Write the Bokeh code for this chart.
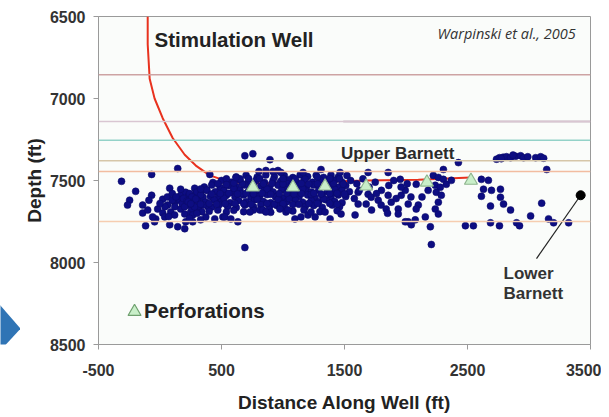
from bokeh.plotting import figure
from bokeh.layouts import row
from bokeh.models import Range1d, FixedTicker, Label, Span
from bokeh.embed import file_html
from bokeh.resources import INLINE

# ---------------- data ----------------
x_ticks = [-500, 500, 1500, 2500, 3500]
x_tick_labels = ["-500", "500", "1500", "2500", "3500"]
depth_ticks = [6500, 7000, 7500, 8000, 8500]

# stimulation well trajectory (distance along well, depth)
well_x = [-100, -100, -84, -44, 22, 103, 201, 291, 405, 568, 837, 1163, 1676, 2100, 2524]
well_depth = [6500, 6669, 6880, 7000, 7120, 7241, 7343, 7409, 7469, 7511, 7518, 7512, 7500, 7495, 7482]

# perforations
perf_x = [755, 1081, 1342, 1676, 2170, 2528]
perf_depth = [7541, 7541, 7535, 7535, 7511, 7500]

# formation tops
top_depths = [6855, 7140, 7255, 7380, 7445, 7750]
top_colors = ["#cda3a3", "#d9c6d2", "#93d2c8", "#d6c6a8", "#f2bca0", "#f6cdb0"]
purple_top_x = [1490, 3500]
purple_top_depth = 7140

# lower barnett pointer
lower_barnett_x = [3420, 3061]
lower_barnett_depth = [7590, 7976]

# microseismic events (distance, depth)
west_events = [
    (-313, 7505), (-68, 7463), (144, 7427), (-198, 7566), (-68, 7590), (-247, 7620),
    (-264, 7650), (-141, 7650), (-141, 7698), (-117, 7776), (79, 7547), (-19, 7674),
    (22, 7698), (62, 7650), (87, 7692), (119, 7632), (144, 7614), (168, 7590),
    (209, 7572), (282, 7547), (307, 7602), (331, 7572), (364, 7632), (225, 7650),
    (168, 7674), (201, 7704), (250, 7692), (307, 7674), (-35, 7734), (38, 7722),
    (79, 7770), (144, 7782), (201, 7794), (209, 7752), (266, 7752), (-44, 7752),
    (168, 7553), (22, 7614), (160, 7620), (242, 7614), (323, 7590), (-60, 7722),
    (119, 7710), (266, 7710), (372, 7722), (180, 7640), (230, 7600), (260, 7630),
    (290, 7580), (330, 7640), (350, 7600), (200, 7660), (280, 7660), (240, 7580),
    (120, 7660), (60, 7600), (100, 7580), (340, 7690), (380, 7560), (390, 7660),
    (100, 7620), (130, 7600), (190, 7610), (220, 7625), (260, 7670), (300, 7700),
    (320, 7655), (40, 7660), (0, 7640), (-90, 7620), (-100, 7680), (70, 7720),
    (240, 7730), (330, 7740),
]

core_events = [
    (620, 7478), (700, 7468), (790, 7480), (860, 7466), (930, 7477), (1010, 7470),
    (1080, 7482), (1140, 7465), (1200, 7476), (1270, 7468), (1330, 7481), (1390, 7467),
    (1450, 7478), (1520, 7470),
    (430, 7512), (500, 7500), (580, 7510), (650, 7497), (720, 7508), (780, 7500),
    (850, 7512), (920, 7498), (980, 7506), (1050, 7495), (1110, 7509), (1170, 7500),
    (1240, 7511), (1300, 7497), (1360, 7507), (1420, 7499), (1480, 7510), (1550, 7500),
    (360, 7540), (420, 7528), (490, 7542), (560, 7530), (620, 7538), (690, 7527),
    (820, 7533), (890, 7543), (960, 7529), (1010, 7540), (1130, 7530), (1190, 7542),
    (1250, 7527), (1300, 7538), (1390, 7528), (1450, 7541), (1510, 7530),
    (300, 7570), (380, 7558), (450, 7568), (520, 7560), (590, 7572), (650, 7558),
    (720, 7566), (790, 7575), (850, 7560), (920, 7570), (990, 7557), (1060, 7568),
    (1110, 7576), (1180, 7560), (1230, 7570), (1290, 7558), (1360, 7567), (1420, 7575),
    (1480, 7560), (1540, 7568),
    (260, 7600), (330, 7588), (410, 7598), (470, 7605), (540, 7590), (610, 7600),
    (680, 7588), (740, 7603), (810, 7594), (870, 7586), (940, 7600), (1000, 7606),
    (1070, 7590), (1130, 7598), (1200, 7588), (1260, 7603), (1320, 7592), (1390, 7600),
    (1450, 7588), (1510, 7598),
    (230, 7630), (300, 7620), (370, 7632), (440, 7618), (500, 7628), (570, 7636),
    (640, 7622), (700, 7630), (770, 7617), (840, 7628), (900, 7636), (970, 7620),
    (1030, 7630), (1100, 7618), (1160, 7632), (1230, 7622), (1290, 7630), (1350, 7618),
    (1420, 7628), (1480, 7635),
    (280, 7660), (350, 7650), (420, 7662), (480, 7648), (550, 7658), (620, 7665),
    (690, 7650), (760, 7660), (820, 7648), (890, 7662), (950, 7652), (1010, 7660),
    (1080, 7647), (1180, 7660), (1250, 7652), (1320, 7664), (1400, 7650), (1460, 7660),
    (400, 7688), (470, 7680), (540, 7692), (600, 7682), (680, 7690), (760, 7680),
    (900, 7694), (1080, 7686), (1170, 7680), (1300, 7690), (1440, 7684),
    (540, 7490), (810, 7488), (1180, 7492), (1460, 7489), (330, 7552), (600, 7548),
    (870, 7553), (1160, 7549), (1420, 7552), (290, 7612), (520, 7608), (790, 7614),
    (1050, 7610), (1330, 7612), (250, 7642), (610, 7640), (930, 7644), (1210, 7640),
    (740, 7545), (1040, 7520), (1280, 7480), (660, 7580), (960, 7615), (1230, 7585),
    (460, 7645), (1380, 7640),
]

core_fill_events = [
    (470, 7520), (540, 7525), (600, 7515), (670, 7520), (760, 7522), (840, 7520),
    (910, 7518), (1000, 7522), (1070, 7525), (1150, 7518), (1210, 7522), (1280, 7520),
    (1350, 7522), (1410, 7518), (1490, 7522),
    (420, 7582), (490, 7580), (560, 7578), (630, 7582), (700, 7578), (760, 7582),
    (830, 7578), (900, 7584), (970, 7580), (1030, 7578), (1090, 7582), (1150, 7580),
    (1250, 7578), (1310, 7582), (1380, 7580), (1440, 7578), (1500, 7582),
    (330, 7645), (400, 7640), (530, 7642), (680, 7640), (740, 7645), (870, 7640),
    (1000, 7642), (1130, 7645), (1280, 7640), (1440, 7645),
    (650, 7490), (720, 7488), (1000, 7488), (1100, 7490), (1380, 7488),
]

upper_events = [
    (405, 7463), (617, 7481), (690, 7349), (755, 7337), (894, 7373), (1057, 7349),
    (804, 7445), (861, 7439), (959, 7439), (918, 7445), (983, 7451), (1163, 7451),
    (1309, 7433), (1464, 7451), (1692, 7451), (1855, 7451), (1953, 7493),
]

lower_events = [
    (445, 7734), (511, 7722), (576, 7734), (633, 7752), (731, 7692), (812, 7680),
    (837, 7680), (861, 7692), (975, 7674), (1024, 7692), (1040, 7680), (1097, 7734),
    (1146, 7722), (1203, 7710), (527, 7722), (690, 7909), (1261, 7722), (1342, 7692),
    (1383, 7734), (1472, 7704), (1586, 7710), (1228, 7692),
]

middle_events = [
    (1611, 7572), (1692, 7584), (1611, 7644), (1676, 7644), (1717, 7602), (1774, 7620),
    (1798, 7650), (1855, 7590), (1839, 7674), (1880, 7632), (1937, 7674), (1961, 7590),
    (1994, 7560), (2018, 7644), (1937, 7704), (2018, 7752), (2075, 7740), (2043, 7770),
    (1994, 7752), (1600, 7520), (1650, 7490), (1700, 7540), (1750, 7510), (1800, 7560),
    (1860, 7530), (1900, 7500), (1960, 7540), (2010, 7520), (1580, 7610), (1720, 7680),
    (1850, 7700), (1620, 7560), (1760, 7580), (1920, 7610), (2040, 7600),
]

east_events = [
    (2083, 7523), (2222, 7469), (2263, 7481), (2304, 7493), (2238, 7529), (2279, 7541),
    (2328, 7523), (2369, 7499), (2246, 7572), (2287, 7590), (2263, 7632), (2100, 7650),
    (2083, 7674), (2238, 7674), (2263, 7704), (2157, 7722), (2198, 7782), (2206, 7890),
    (2426, 7391), (2304, 7433), (2130, 7600), (2180, 7560),
    (2613, 7493), (2670, 7499), (2630, 7553), (2695, 7560), (2613, 7596), (2768, 7553),
    (2768, 7602), (2793, 7644), (2687, 7656), (2850, 7680), (2687, 7758), (2760, 7776),
    (2899, 7758), (2923, 7776), (3013, 7716), (3103, 7638), (3159, 7734), (3200, 7758),
    (3322, 7758), (2483, 7776), (2548, 7776), (3144, 7433),
]

streak_events = [
    (2736, 7370), (2760, 7361), (2790, 7358), (2817, 7355), (2850, 7361), (2891, 7352),
    (2932, 7349), (2956, 7361), (2990, 7355), (3054, 7361), (3095, 7355), (3119, 7364),
    (2775, 7367), (2870, 7345),
]

# decorative slide chevron (page pixels of the strip at the left)
chevron_x = [-10, 20, -10]
chevron_y = [297, 332, 365]

# ---------------- figure ----------------
W_MAIN, H = 581, 415
FRAME_TOP, FRAME_BOTTOM = 16, 348

p = figure(width=W_MAIN, height=H, output_backend="svg", toolbar_location=None,
           x_range=Range1d(-500, 3500), y_range=Range1d(8500, 6500),
           min_border_left=76, min_border_right=11, min_border_top=FRAME_TOP,
           min_border_bottom=H - FRAME_BOTTOM)
p.background_fill_color = "#fafcfa"
p.border_fill_color = "white"
p.outline_line_color = "#9a9a9a"
p.outline_line_width = 1
p.xgrid.visible = False
p.ygrid.visible = False

for ax in (p.xaxis[0], p.yaxis[0]):
    ax.axis_line_color = "#9a9a9a"
    ax.major_tick_line_color = "#9a9a9a"
    ax.major_tick_out = 5
    ax.major_tick_in = 0
    ax.minor_tick_line_color = None
    ax.major_label_text_font = "Liberation Sans"
    ax.major_label_text_font_style = "bold"
    ax.major_label_text_font_size = "16px"
    ax.major_label_text_color = "#333333"
    ax.axis_label_text_font = "Liberation Sans"
    ax.axis_label_text_font_style = "bold"
    ax.axis_label_text_font_size = "19px"
    ax.axis_label_text_color = "#222222"

p.xaxis.ticker = FixedTicker(ticks=x_ticks)
p.xaxis.major_label_overrides = dict(zip(x_ticks, x_tick_labels))
p.yaxis.ticker = FixedTicker(ticks=depth_ticks)
p.xaxis.axis_label = "Distance Along Well (ft)"
p.yaxis.axis_label = "Depth (ft)"
p.xaxis.major_label_standoff = 14
p.yaxis.major_label_standoff = 8
p.xaxis.axis_label_standoff = 13
p.yaxis.axis_label_standoff = 2

# formation tops
for d, c in zip(top_depths, top_colors):
    p.add_layout(Span(location=d, dimension="width", line_color=c, line_width=1.5))
p.line(purple_top_x, [purple_top_depth] * len(purple_top_x), line_color="#9c7d95", line_width=1.5)

# well path (behind the events)
p.line(well_x, well_depth, line_color="#e8321e", line_width=2)

# events
all_events = (west_events + core_events + core_fill_events + upper_events + lower_events
              + middle_events + east_events + streak_events)
ex = [e[0] for e in all_events]
ey = [e[1] for e in all_events]
p.scatter(ex, ey, marker="circle", size=7, fill_color="#0d0d82", line_color="#0a0a66", line_width=0.5)

# perforations
p.scatter(perf_x, perf_depth, marker="triangle", size=13, fill_color="#c9efc9", line_color="#8fb58f", line_width=1.2)

# lower barnett pointer
p.line(lower_barnett_x, lower_barnett_depth, line_color="#222222", line_width=1.2)
p.scatter(lower_barnett_x[:1], lower_barnett_depth[:1], marker="circle", size=9, fill_color="black", line_color="black")

# legend triangle
p.scatter([-207], [8300], marker="triangle", size=13, fill_color="#c9efc9", line_color="#6fa06f", line_width=1.2)

def lab(x, y, t, size, style="bold", align="left", color="#222222", font="Liberation Sans"):
    p.add_layout(Label(x=x, y=y, text=t, text_font=font, text_font_size=size,
                       text_font_style=style, text_align=align, text_baseline="middle",
                       text_color=color))

lab(-45, 6642, "Stimulation Well", "20.5px")
lab(3379, 6605, "Warpinski et al., 2005", "14.5px", style="italic", align="right", color="#333333", font="Open Sans")
lab(1472, 7335, "Upper Barnett", "17px", color="#2a2a2a")
lab(-130, 8290, "Perforations", "20.5px")
lab(2793, 8066, "Lower", "17px", color="#333333")
lab(2793, 8186, "Barnett", "17px", color="#333333")

# left strip with the slide chevron (its frame is aligned with the main frame)
chev = figure(width=20, height=H, output_backend="svg", toolbar_location=None,
              x_range=Range1d(0, 20), y_range=Range1d(FRAME_BOTTOM, FRAME_TOP),
              x_axis_type=None, y_axis_type=None, min_border=0)
chev.outline_line_color = None
chev.background_fill_color = "white"
chev.border_fill_color = "white"
chev.xgrid.visible = False
chev.ygrid.visible = False
chev.patch(chevron_x, chevron_y, fill_color="#2f74b5", line_color=None)

layout = row(chev, p)
open("out.html", "w").write(file_html(layout, INLINE))
